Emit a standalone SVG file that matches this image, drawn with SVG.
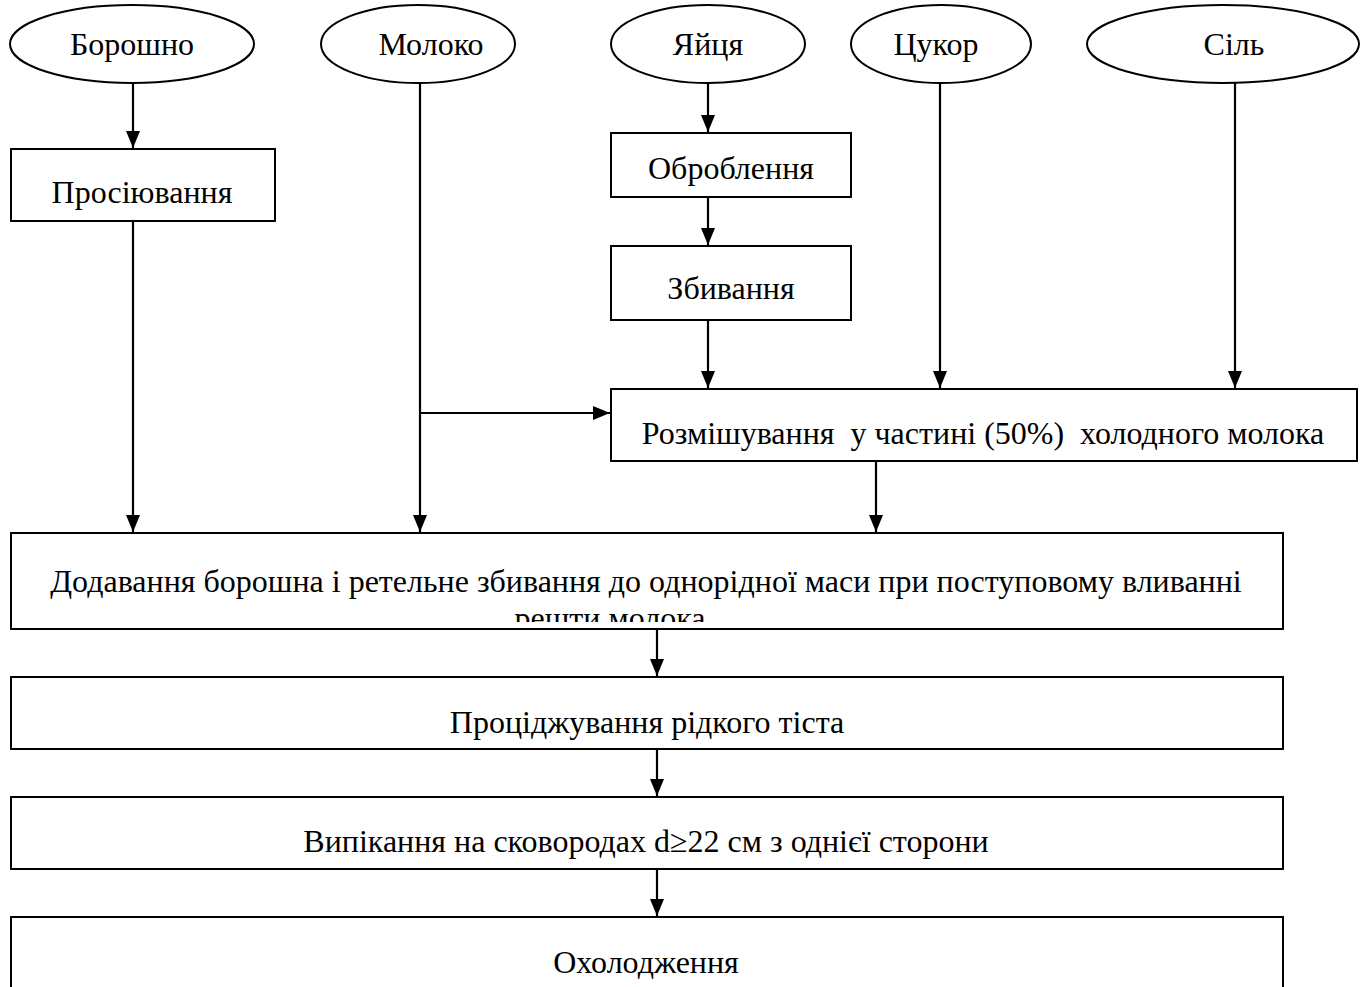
<svg xmlns="http://www.w3.org/2000/svg" width="1364" height="987" viewBox="0 0 1364 987">
<style>
.n{fill:#fff;stroke:#000;stroke-width:2}
.t{font-family:"Liberation Serif","Times New Roman",serif;font-size:32px;fill:#000;text-anchor:middle}
.c{fill:none;stroke:#000;stroke-width:2.2}
</style>
<defs>
<marker id="a" markerWidth="17" markerHeight="14" refX="17" refY="7" orient="auto" markerUnits="userSpaceOnUse">
<path d="M0,0 L17,7 L0,14 Z" fill="#000"/>
</marker>
<clipPath id="clipDod"><rect x="0" y="530" width="1364" height="92"/></clipPath>
</defs>
<rect width="1364" height="987" fill="#fff"/>
<g id="connectors">
<path class="c" d="M133,83 V148" marker-end="url(#a)"/>
<path class="c" d="M133,221 V532" marker-end="url(#a)"/>
<path class="c" d="M420,83 V532" marker-end="url(#a)"/>
<path class="c" d="M420,413 H610" marker-end="url(#a)"/>
<path class="c" d="M708,83 V132" marker-end="url(#a)"/>
<path class="c" d="M708,197 V245" marker-end="url(#a)"/>
<path class="c" d="M708,320 V388" marker-end="url(#a)"/>
<path class="c" d="M940,80 V388" marker-end="url(#a)"/>
<path class="c" d="M1235,78 V388" marker-end="url(#a)"/>
<path class="c" d="M876,461 V532" marker-end="url(#a)"/>
<path class="c" d="M657,629 V676" marker-end="url(#a)"/>
<path class="c" d="M657,749 V796" marker-end="url(#a)"/>
<path class="c" d="M657,869 V916" marker-end="url(#a)"/>
</g>
<g id="n-boroshno"><ellipse class="n" cx="132" cy="44" rx="122" ry="39"/><text class="t" x="132" y="55">Борошно</text></g>
<g id="n-moloko"><ellipse class="n" cx="418" cy="44" rx="97" ry="39"/><text class="t" x="431" y="55">Молоко</text></g>
<g id="n-yaitsia"><ellipse class="n" cx="708" cy="44" rx="97" ry="39"/><text class="t" x="708" y="55">Яйця</text></g>
<g id="n-tsukor"><ellipse class="n" cx="941" cy="44" rx="90" ry="39"/><text class="t" x="936" y="55">Цукор</text></g>
<g id="n-sil"><ellipse class="n" cx="1223" cy="44" rx="136" ry="39"/><text class="t" x="1234" y="55">Сіль</text></g>
<g id="n-prosiiuvannia"><rect class="n" x="11" y="149" width="264" height="72"/><text class="t" x="142" y="203">Просіювання</text></g>
<g id="n-obroblennia"><rect class="n" x="611" y="133" width="240" height="64"/><text class="t" x="731" y="179">Оброблення</text></g>
<g id="n-zbyvannia"><rect class="n" x="611" y="246" width="240" height="74"/><text class="t" x="731" y="299">Збивання</text></g>
<g id="n-rozmishuvannia"><rect class="n" x="611" y="389" width="746" height="72"/><text class="t" x="983" y="444" xml:space="preserve">Розмішування  у частині (50%)  холодного молока</text></g>
<g id="n-dodavannia"><rect class="n" x="11" y="533" width="1272" height="96"/><text class="t" x="646" y="592">Додавання борошна і ретельне збивання до однорідної маси при поступовому вливанні</text><text class="t" x="610" y="629" clip-path="url(#clipDod)">решти молока</text></g>
<g id="n-protsidzhuvannia"><rect class="n" x="11" y="677" width="1272" height="72"/><text class="t" x="647" y="733">Проціджування рідкого тіста</text></g>
<g id="n-vypikannia"><rect class="n" x="11" y="797" width="1272" height="72"/><text class="t" x="646" y="852">Випікання на сковородах d≥22 см з однієї сторони</text></g>
<g id="n-okholodzhennia"><rect class="n" x="11" y="917" width="1272" height="80"/><text class="t" x="646" y="973">Охолодження</text></g>
</svg>
